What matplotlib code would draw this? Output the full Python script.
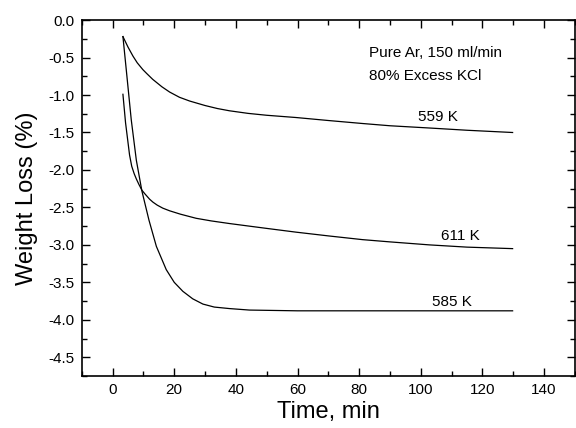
import numpy as np
import matplotlib.pyplot as plt

plt.rcParams['font.family'] = ['Liberation Sans', 'DejaVu Sans']

# curve read-offs (time in min, weight loss in %)
t_559 = [3.35, 5, 6.6, 8, 9.8, 11, 13, 16, 18.5, 21.7, 25, 30, 34, 37.9, 44, 50, 59.5,
         70, 81.1, 90, 102.8, 115, 129.8]
w_559 = [-0.22, -0.36, -0.48, -0.57, -0.66, -0.71, -0.79, -0.89, -0.96, -1.03, -1.08,
         -1.14, -1.18, -1.21, -1.245, -1.27, -1.30, -1.34, -1.38, -1.41, -1.44, -1.47, -1.50]

t_585 = [3.35, 4.5, 6.05, 7.7, 9.5, 11.8, 14.2, 17.4, 20, 22.8, 26, 29.3, 33, 37.9, 44.4,
         60, 80, 100, 129.8]
w_585 = [-0.22, -0.69, -1.33, -1.87, -2.28, -2.67, -3.02, -3.33, -3.50, -3.62, -3.72, -3.79,
         -3.83, -3.85, -3.87, -3.88, -3.88, -3.88, -3.88]

t_611 = [3.35, 4.2, 5.5, 6.2, 7, 7.7, 8.5, 9.5, 10.5, 12, 13.1, 14.5, 16.3, 18.5, 22, 27.1,
         32, 37.9, 44.4, 50, 59.5, 70, 81.1, 90, 102.8, 115, 129.8]
w_611 = [-0.99, -1.37, -1.80, -1.95, -2.05, -2.12, -2.19, -2.27, -2.32, -2.39, -2.43, -2.47,
         -2.51, -2.545, -2.59, -2.645, -2.68, -2.715, -2.75, -2.78, -2.83, -2.88, -2.93,
         -2.96, -3.00, -3.03, -3.05]

labels = ['559 K', '611 K', '585 K']
label_pos = [(105.6, -1.29), (112.7, -2.88), (110.0, -3.76)]

fig = plt.figure(figsize=(5.76, 4.28), dpi=100)
ax = fig.add_axes([0.142, 0.1215, 0.856, 0.8315])

for t, w in [(t_559, w_559), (t_585, w_585), (t_611, w_611)]:
    ax.plot(t, w, color='black', lw=0.9)

for lab, (x, y) in zip(labels, label_pos):
    ax.text(x, y, lab, ha='center', va='center', fontsize=11)

ax.text(83.3, -0.44, 'Pure Ar, 150 ml/min', ha='left', va='center', fontsize=11)
ax.text(83.3, -0.75, '80% Excess KCl', ha='left', va='center', fontsize=11)

ax.set_xlim(-10, 150)
ax.set_ylim(-4.75, 0.0)
ax.set_xticks(np.arange(0, 141, 20))
ax.set_xticks(np.arange(-10, 151, 10), minor=True)
ax.set_yticks(np.arange(-4.5, 0.01, 0.5))
ax.set_yticks(np.arange(-4.75, 0.01, 0.25), minor=True)
ax.yaxis.set_major_formatter(plt.FormatStrFormatter('%.1f'))

ax.tick_params(which='both', direction='in', top=True, right=True, labelsize=11, width=1.0)
ax.tick_params(which='major', length=5.5, pad=5)
ax.tick_params(which='minor', length=3.5)
for s in ax.spines.values():
    s.set_linewidth(1.2)

ax.set_xlabel('Time, min', fontsize=17, labelpad=3)
ax.set_ylabel('Weight Loss (%)', fontsize=17, labelpad=8)

fig.savefig('out.png', dpi=100)
